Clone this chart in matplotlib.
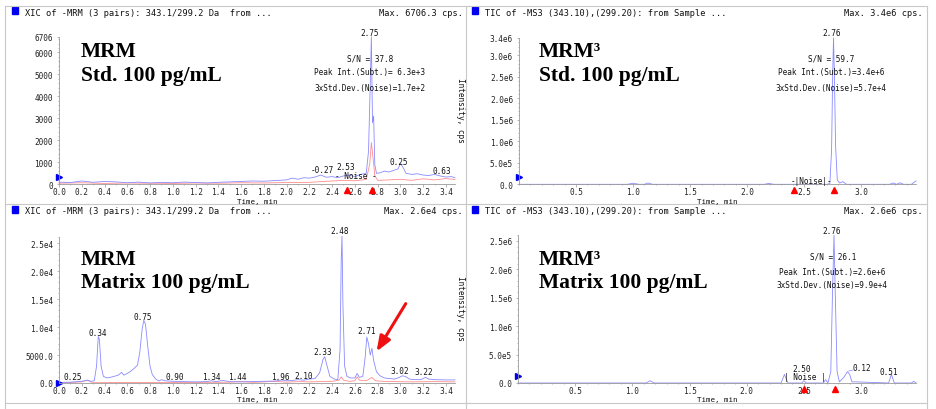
import matplotlib
matplotlib.use('Agg')
import matplotlib.pyplot as plt
from matplotlib.patches import Rectangle
from matplotlib.lines import Line2D
from matplotlib.ticker import MultipleLocator

W, H = 936, 410

# ---- data (time in min, intensity in cps) ----
# MRM, standard 100 pg/mL
std_mrm_t = [0.0, 0.1, 0.2, 0.3, 0.4, 0.5, 0.6, 0.7, 0.8, 0.9, 1.0, 1.1, 1.2, 1.3, 1.4, 1.5, 1.6, 1.7,
             1.8, 1.9, 2.0, 2.05, 2.1, 2.15, 2.2, 2.25, 2.3, 2.35, 2.4, 2.45, 2.5, 2.55, 2.6, 2.65, 2.7,
             2.72, 2.735, 2.745, 2.755, 2.765, 2.775, 2.79, 2.82, 2.86, 2.9, 2.95, 2.98, 3.0, 3.02,
             3.05, 3.1, 3.15, 3.2, 3.25, 3.3, 3.35, 3.4, 3.45, 3.48]
std_mrm_blue = [100, 80, 150, 90, 130, 110, 70, 100, 60, 90, 70, 100, 80, 60, 90, 110, 130, 150,
                140, 170, 200, 280, 230, 300, 280, 330, 420, 320, 350, 300, 380, 420, 350, 450, 500,
                1500, 4500, 6706, 2800, 3100, 900, 500, 520, 600, 560, 650, 700, 950, 800,
                500, 450, 480, 420, 400, 450, 380, 330, 350, 300]
std_mrm_red_t = [0.0, 0.2, 0.4, 0.6, 0.8, 1.0, 1.2, 1.4, 1.6, 1.8, 2.0, 2.2, 2.3, 2.4, 2.5, 2.6, 2.7,
                 2.73, 2.745, 2.76, 2.775, 2.8, 2.9, 3.0, 3.1, 3.2, 3.3, 3.4, 3.48]
std_mrm_red = [50, 70, 40, 60, 50, 40, 60, 50, 70, 60, 80, 90, 120, 150, 180, 160, 220,
               900, 1900, 1200, 400, 180, 200, 230, 180, 250, 200, 260, 220]

# MRM3, standard 100 pg/mL
std_ms3_t = [0.0, 0.95, 1.0, 1.05, 1.1, 1.13, 1.17, 2.15, 2.19, 2.23, 2.7, 2.725, 2.74, 2.75,
             2.757, 2.765, 2.775, 2.79, 2.81, 2.84, 2.87, 3.25, 3.28, 3.31, 3.34, 3.37, 3.44, 3.48]
std_ms3 = [0, 0, 25000, 0, 0, 30000, 0, 0, 20000, 0, 0, 20000, 800000, 2600000,
           3400000, 2500000, 900000, 100000, 30000, 60000, 0, 0, 30000, 0, 35000, 0, 0, 80000]

# MRM, matrix 100 pg/mL
mat_mrm_t = [0.0, 0.1, 0.2, 0.25, 0.28, 0.31, 0.33, 0.345, 0.355, 0.37, 0.39, 0.42, 0.47, 0.52,
             0.55, 0.57, 0.6, 0.63, 0.66, 0.69, 0.71, 0.73, 0.745, 0.76, 0.78, 0.8, 0.82, 0.85,
             0.88, 0.9, 0.93, 1.0, 1.1, 1.2, 1.3, 1.34, 1.38, 1.44, 1.5, 1.6, 1.7, 1.8, 1.9, 1.96,
             2.0, 2.05, 2.1, 2.15, 2.2, 2.25, 2.29, 2.32, 2.335, 2.35, 2.38, 2.42, 2.45, 2.47,
             2.48, 2.487, 2.495, 2.51, 2.53, 2.56, 2.6, 2.62, 2.64, 2.67, 2.69, 2.705, 2.72,
             2.735, 2.75, 2.765, 2.79, 2.82, 2.86, 2.9, 2.95, 2.99, 3.02, 3.05, 3.08, 3.12, 3.18,
             3.22, 3.25, 3.3, 3.4, 3.48]
mat_mrm_blue = [100, 150, 300, 500, 300, 400, 3000, 8300, 7800, 3000, 1200, 900, 1100, 1400,
                1900, 1400, 1700, 2100, 2600, 3200, 5500, 9500, 11200, 10500, 6500, 3000, 1500, 700,
                350, 600, 400, 300, 250, 200, 250, 400, 250, 450, 250, 200, 250, 300, 350, 550,
                400, 450, 600, 500, 700, 800, 1800, 4200, 4700, 3500, 1200, 700, 600, 6000,
                22000, 26200, 14000, 3000, 1200, 900, 900, 1700, 1000, 1200, 4500, 8200, 7000,
                5000, 6200, 4000, 2000, 1300, 900, 800, 700, 1000, 1300, 1100, 700, 600, 600,
                1000, 700, 600, 550, 550]
mat_mrm_red_t = [0.0, 0.2, 0.25, 0.28, 0.3, 0.5, 0.8, 1.0, 1.2, 1.5, 1.6, 1.7, 1.8, 1.9, 2.0, 2.1,
                 2.2, 2.3, 2.4, 2.46, 2.48, 2.5, 2.55, 2.6, 2.62, 2.64, 2.7, 2.75, 2.78, 2.85,
                 2.95, 3.1, 3.3, 3.48]
mat_mrm_red = [0, 200, 500, 200, 50, 80, 100, 80, 100, 150, 250, 120, 200, 300, 150, 250,
               200, 250, 300, 500, 1100, 500, 300, 400, 1100, 500, 400, 1000, 400, 300,
               250, 200, 250, 200]

# MRM3, matrix 100 pg/mL
mat_ms3_t = [0.0, 1.12, 1.155, 1.19, 2.3, 2.33, 2.36, 2.48, 2.5, 2.52, 2.67, 2.69, 2.71, 2.735,
             2.75, 2.763, 2.775, 2.79, 2.81, 2.85, 2.88, 2.9, 2.92, 2.95, 3.24, 3.265, 3.29,
             3.44, 3.46, 3.48]
mat_ms3 = [0, 0, 40000, 0, 0, 150000, 0, 0, 40000, 0, 0, 60000, 0, 200000,
           1600000, 2600000, 1500000, 200000, 20000, 100000, 200000, 150000, 20000, 20000, 0, 150000, 0,
           0, 30000, 0]

mrm_xticks = [0.0, 0.2, 0.4, 0.6, 0.8, 1.0, 1.2, 1.4, 1.6, 1.8, 2.0, 2.2, 2.4, 2.6, 2.8, 3.0, 3.2, 3.4]
ms3_xticks = [0.5, 1.0, 1.5, 2.0, 2.5, 3.0]
std_mrm_yticks = [0, 1000, 2000, 3000, 4000, 5000, 6000, 6706]
std_mrm_ylabels = ['0', '1000', '2000', '3000', '4000', '5000', '6000', '6706']
std_ms3_yticks = [0, 5e5, 1e6, 1.5e6, 2e6, 2.5e6, 3e6, 3.4e6]
std_ms3_ylabels = ['0.0', '5.0e5', '1.0e6', '1.5e6', '2.0e6', '2.5e6', '3.0e6', '3.4e6']
mat_mrm_yticks = [0, 5000, 1e4, 1.5e4, 2e4, 2.5e4]
mat_mrm_ylabels = ['0.0', '5000.0', '1.0e4', '1.5e4', '2.0e4', '2.5e4']
mat_ms3_yticks = [0, 5e5, 1e6, 1.5e6, 2e6, 2.5e6]
mat_ms3_ylabels = ['0.0', '5.0e5', '1.0e6', '1.5e6', '2.0e6', '2.5e6']

BLUE = '#8a8aff'
RED = '#ff8c8c'
GRID = '#c8c8c8'
SMALL = dict(family='DejaVu Sans Mono', fontsize=5.6, color='#111111')
BIG = dict(family='Liberation Serif', fontweight='bold', fontsize=15.5, color='black')


def fx(x):
  return x / W


def fy(y):
  return 1 - y / H


def ftext(x, y, s, **kw):
  opts = dict(SMALL)
  opts.update(kw)
  fig.text(fx(x), fy(y), s, **opts)


def make_axes(x0, x1, ytop, ybot, xlim, ylim):
  ax = fig.add_axes([fx(x0), fy(ybot), (x1 - x0) / W, (ybot - ytop) / H])
  ax.set_xlim(*xlim)
  ax.set_ylim(*ylim)
  ax.patch.set_alpha(0)
  for side in ['top', 'right']:
    ax.spines[side].set_visible(False)
  for side in ['left', 'bottom']:
    ax.spines[side].set_color('#9a9a9a')
    ax.spines[side].set_linewidth(0.6)
  ax.tick_params(which='both', direction='out', color='#9a9a9a', width=0.5,
                 labelsize=5.6, labelcolor='#222222')
  ax.tick_params(axis='x', which='both', pad=0.3)
  ax.tick_params(axis='y', which='both', pad=2.5)
  ax.tick_params(which='major', length=1.8)
  ax.tick_params(which='minor', length=1)
  return ax


def style_ticks(ax):
  for lab in ax.get_xticklabels() + ax.get_yticklabels():
    lab.set_family('DejaVu Sans Mono')
    lab.set_fontsize(5.6)


fig = plt.figure(figsize=(W / 100, H / 100), dpi=100)

# panel frames
for x in [5, 466, 927]:
  fig.add_artist(Line2D([fx(x), fx(x)], [fy(7), fy(410)], color=GRID, lw=0.8))
for y in [7, 205, 404]:
  fig.add_artist(Line2D([fx(5), fx(927)], [fy(y), fy(y)], color=GRID, lw=0.8))

# ---------------- top-left: MRM standard ----------------
ax1 = make_axes(59, 455, 37.8, 185.3, (0, 3.48), (0, 6706))
ax1.plot(std_mrm_red_t, std_mrm_red, color=RED, lw=0.6, clip_on=False)
ax1.plot(std_mrm_t, std_mrm_blue, color=BLUE, lw=0.6, clip_on=False)
ax1.set_xticks(mrm_xticks)
ax1.set_xticklabels([f'{v:.1f}' for v in mrm_xticks])
ax1.set_yticks(std_mrm_yticks)
ax1.set_yticklabels(std_mrm_ylabels)
ax1.yaxis.set_minor_locator(MultipleLocator(200))
ax1.xaxis.set_minor_locator(MultipleLocator(0.1))
ax1.plot(0, 330, marker='>', color='#0000ee', ms=4, clip_on=False)
ax1.plot([2.53, 2.75], [-0.04, -0.04], ls='none', marker='^', color='red', ms=4,
         transform=ax1.get_xaxis_transform(), clip_on=False)
style_ticks(ax1)

# ---------------- top-right: MRM3 standard ----------------
ax2 = make_axes(519, 916, 39, 185.3, (0, 3.48), (0, 3.4e6))
ax2.plot(std_ms3_t, std_ms3, color=BLUE, lw=0.6, clip_on=False)
ax2.set_xticks(ms3_xticks)
ax2.set_xticklabels([f'{v:.1f}' for v in ms3_xticks])
ax2.set_yticks(std_ms3_yticks)
ax2.set_yticklabels(std_ms3_ylabels)
ax2.yaxis.set_minor_locator(MultipleLocator(1e5))
ax2.xaxis.set_minor_locator(MultipleLocator(0.1))
ax2.plot(0, 1.7e5, marker='>', color='#0000ee', ms=4, clip_on=False)
ax2.plot([2.41, 2.76], [-0.04, -0.04], ls='none', marker='^', color='red', ms=4,
         transform=ax2.get_xaxis_transform(), clip_on=False)
style_ticks(ax2)

# ---------------- bottom-left: MRM matrix ----------------
ax3 = make_axes(59, 455, 238.4, 384, (0, 3.48), (0, 26000))
ax3.plot(mat_mrm_red_t, mat_mrm_red, color=RED, lw=0.6, clip_on=False)
ax3.plot(mat_mrm_t, mat_mrm_blue, color=BLUE, lw=0.6, clip_on=False)
ax3.set_xticks(mrm_xticks)
ax3.set_xticklabels([f'{v:.1f}' for v in mrm_xticks])
ax3.set_yticks(mat_mrm_yticks)
ax3.set_yticklabels(mat_mrm_ylabels)
ax3.yaxis.set_minor_locator(MultipleLocator(1000))
ax3.xaxis.set_minor_locator(MultipleLocator(0.1))
ax3.plot(0, 0, marker='>', color='#0000ee', ms=4, clip_on=False)
ax3.annotate('', xy=(2.778, 5200), xytext=(3.06, 14600),
             arrowprops=dict(arrowstyle='-|>,head_length=0.9,head_width=0.35', color='#ee1111', lw=2.2))
style_ticks(ax3)

# ---------------- bottom-right: MRM3 matrix ----------------
ax4 = make_axes(518, 916, 236.3, 384, (0, 3.48), (0, 2.6e6))
ax4.plot(mat_ms3_t, mat_ms3, color=BLUE, lw=0.6, clip_on=False)
ax4.plot([2.89, 2.93], [2.1e5, 2.3e5], color=BLUE, lw=0.5)
ax4.set_xticks(ms3_xticks)
ax4.set_xticklabels([f'{v:.1f}' for v in ms3_xticks])
ax4.set_yticks(mat_ms3_yticks)
ax4.set_yticklabels(mat_ms3_ylabels)
ax4.yaxis.set_minor_locator(MultipleLocator(1e5))
ax4.xaxis.set_minor_locator(MultipleLocator(0.1))
ax4.plot(0, 1.3e5, marker='>', color='#0000ee', ms=4, clip_on=False)
ax4.plot([2.5, 2.77], [-0.04, -0.04], ls='none', marker='^', color='red', ms=4,
         transform=ax4.get_xaxis_transform(), clip_on=False)
style_ticks(ax4)

# ---------------- headers ----------------
for x0, ytop in [(12, 8), (472, 8), (12, 207), (472, 207)]:
  fig.add_artist(Rectangle((fx(x0), fy(ytop + 7)), 6 / W, 7 / H, color='#0000ee',
                           transform=fig.transFigure))
ftext(25, 13, 'XIC of -MRM (3 pairs): 343.1/299.2 Da  from ...', va='center', fontsize=6.2)
ftext(463, 13, 'Max. 6706.3 cps.', va='center', ha='right', fontsize=6.2)
ftext(485, 13, 'TIC of -MS3 (343.10),(299.20): from Sample ...', va='center', fontsize=6.2)
ftext(923, 13, 'Max. 3.4e6 cps.', va='center', ha='right', fontsize=6.2)
ftext(25, 212, 'XIC of -MRM (3 pairs): 343.1/299.2 Da  from ...', va='center', fontsize=6.2)
ftext(463, 212, 'Max. 2.6e4 cps.', va='center', ha='right', fontsize=6.2)
ftext(485, 212, 'TIC of -MS3 (343.10),(299.20): from Sample ...', va='center', fontsize=6.2)
ftext(923, 212, 'Max. 2.6e6 cps.', va='center', ha='right', fontsize=6.2)

# big sample labels
fig.text(fx(81), fy(57), 'MRM', va='baseline', **BIG)
fig.text(fx(81), fy(81), 'Std. 100 pg/mL', va='baseline', **BIG)
fig.text(fx(539), fy(57), 'MRM³', va='baseline', **BIG)
fig.text(fx(539), fy(81), 'Std. 100 pg/mL', va='baseline', **BIG)
fig.text(fx(81), fy(265), 'MRM', va='baseline', **BIG)
fig.text(fx(81), fy(288), 'Matrix 100 pg/mL', va='baseline', **BIG)
fig.text(fx(539), fy(265), 'MRM³', va='baseline', **BIG)
fig.text(fx(539), fy(288), 'Matrix 100 pg/mL', va='baseline', **BIG)

# axis titles
for xc, y in [(257, 202), (717, 202), (257, 400), (717, 400)]:
  ftext(xc, y, 'Time, min', ha='center', va='center', fontsize=5.4)
ftext(460, 110, 'Intensity, cps', ha='center', va='center', rotation=270)
ftext(460, 308, 'Intensity, cps', ha='center', va='center', rotation=270)

# peak / S/N annotations, top-left
ftext(370, 33, '2.75', ha='center', va='center')
ftext(370, 59, 'S/N = 37.8', ha='center', va='center')
ftext(370, 73, 'Peak Int.(Subt.)= 6.3e+3', ha='center', va='center')
ftext(370, 89, '3xStd.Dev.(Noise)=1.7e+2', ha='center', va='center')
ftext(322, 171, '-0.27', ha='center', va='center')
ftext(346, 168, '2.53', ha='center', va='center')
ftext(356, 177, '- Noise -', ha='center', va='center')
ftext(399, 163, '0.25', ha='center', va='center')
ftext(442, 172, '0.63', ha='center', va='center')

# top-right
ftext(832, 33, '2.76', ha='center', va='center')
ftext(831, 59, 'S/N = 59.7', ha='center', va='center')
ftext(831, 73, 'Peak Int.(Subt.)=3.4e+6', ha='center', va='center')
ftext(831, 89, '3xStd.Dev.(Noise)=5.7e+4', ha='center', va='center')
ftext(811, 182, '-|Noise|-', ha='center', va='center')

# bottom-left
ftext(340, 232, '2.48', ha='center', va='center')
ftext(98, 333, '0.34', ha='center', va='center')
ftext(143, 317, '0.75', ha='center', va='center')
ftext(323, 353, '2.33', ha='center', va='center')
ftext(367, 332, '2.71', ha='center', va='center')
ftext(400, 372, '3.02', ha='center', va='center')
ftext(424, 373, '3.22', ha='center', va='center')
ftext(73, 378, '0.25', ha='center', va='center')
ftext(175, 378, '0.90', ha='center', va='center')
ftext(211, 378, '1.34', ha='center', va='center')
ftext(237, 378, '1.44', ha='center', va='center')
ftext(280, 378, '1.96', ha='center', va='center')
ftext(304, 377, '2.10', ha='center', va='center')

# bottom-right
ftext(832, 232, '2.76', ha='center', va='center')
ftext(833, 257, 'S/N = 26.1', ha='center', va='center')
ftext(832, 272, 'Peak Int.(Subt.)=2.6e+6', ha='center', va='center')
ftext(832, 286, '3xStd.Dev.(Noise)=9.9e+4', ha='center', va='center')
ftext(802, 370, '2.50', ha='center', va='center')
ftext(805, 378, '| Noise |', ha='center', va='center')
ftext(862, 369, '0.12', ha='center', va='center')
ftext(889, 373, '0.51', ha='center', va='center')

fig.savefig('out.png', dpi=100)
